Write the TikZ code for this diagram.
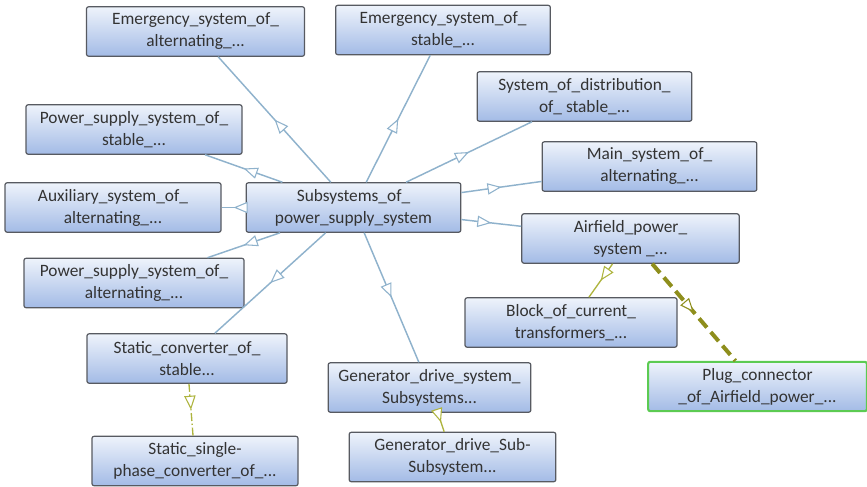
\documentclass[tikz,border=0pt]{standalone}
\usepackage{fontspec}
\setmainfont{Carlito}
\usetikzlibrary{positioning, arrows.meta, decorations.markings}
\definecolor{boxtop}{HTML}{EEF3FB}
\definecolor{boxbot}{HTML}{A3BBE6}
\definecolor{boxline}{HTML}{575A61}
\definecolor{linkblue}{HTML}{8FB2CC}
\definecolor{partgreen}{HTML}{AEB43E}
\definecolor{plugolive}{HTML}{8E8E1C}
\definecolor{pluggreen}{HTML}{5CCB52}
\tikzset{
    box/.style={draw=boxline, line width=0.9pt, rounded corners=1.5pt, top color=boxtop, bottom color=boxbot, minimum width=161pt, minimum height=37pt, align=center, inner sep=2pt, text=black!80}, % every class box
    midarrow/.style={postaction={decorate}, decoration={markings, mark=at position 0.5 with {\arrow[#1]{Triangle[fill=white, length=10.5pt, width=8.5pt, line width=0.8pt]}}}}, % open triangle halfway
    link/.style={draw=linkblue, line width=1.1pt, midarrow=linkblue},
    part/.style={draw=partgreen, line width=1pt, midarrow=partgreen},
    plug/.style={draw=plugolive, line width=3pt, dash pattern=on 9pt off 4.5pt, midarrow=plugolive}
}

\begin{document}
\begin{tikzpicture}[x=0.75pt, y=-0.75pt, every node/.style={font=\fontsize{13}{16.5}\selectfont}]
    \useasboundingbox (0,0) rectangle (867,486);

    \node[box] (sub) at (353.5,207.5) {Subsystems\_of\_\\power\_supply\_system};

    \node[box, minimum width=163.5pt] (emalt) at (195.5,31.5) {Emergency\_system\_of\_\\alternating\_...};
    \node[box] (emstab) at (443,30) {Emergency\_system\_of\_\\stable\_...};
    \node[box, minimum width=162pt] (pwrstab) at (134,129.5) {Power\_supply\_system\_of\_\\stable\_...};
    \node[box] (sysdist) at (584.5,96.5) {System\_of\_distribution\_\\of\_ stable\_...};
    \node[box] (mainalt) at (649.5,166.5) {Main\_system\_of\_\\alternating\_...};
    \node[box, minimum width=162pt] (auxalt) at (113,207.5) {Auxiliary\_system\_of\_\\alternating\_...};
    \node[box, minimum width=165pt] (pwralt) at (134,283) {Power\_supply\_system\_of\_\\alternating\_...};

    \node[box, minimum width=163pt] (airfield) at (630.5,238.5) {Airfield\_power\_\\system \_...};
    \node[box, minimum width=159pt] (block) at (571,322.5) {Block\_of\_current\_\\transformers\_...};
    \node[box, minimum width=164pt, draw=pluggreen, line width=1.6pt] (plugcon) at (757.5,386.5) {Plug\_connector\\\_of\_Airfield\_power\_...};

    \node[box, minimum width=150pt] (statconv) at (187,358.5) {Static\_converter\_of\_\\stable...};
    \node[box, minimum width=154.5pt] (statsingle) at (195,461) {Static\_single-\\phase\_converter\_of\_...};

    \node[box, minimum width=152pt] (gendrive) at (429.5,387.5) {Generator\_drive\_system\_\\Subsystems...};
    \node[box, minimum width=155pt] (gensub) at (452.5,457) {Generator\_drive\_Sub-\\Subsystem...};

    % links out of the main subsystem box
    \foreach \n in {emalt, emstab, pwrstab, sysdist, mainalt, auxalt, pwralt, airfield, statconv, gendrive}
        \draw[link] (sub) -- (\n);

    \draw[part] (airfield) -- (block);
    \draw[plug] (airfield) -- (plugcon);
    \draw[part, dash pattern=on 6pt off 2pt on 1pt off 2pt] (statconv) -- (statsingle);
    \draw[part] (gendrive) -- (gensub);
\end{tikzpicture}
\end{document}
